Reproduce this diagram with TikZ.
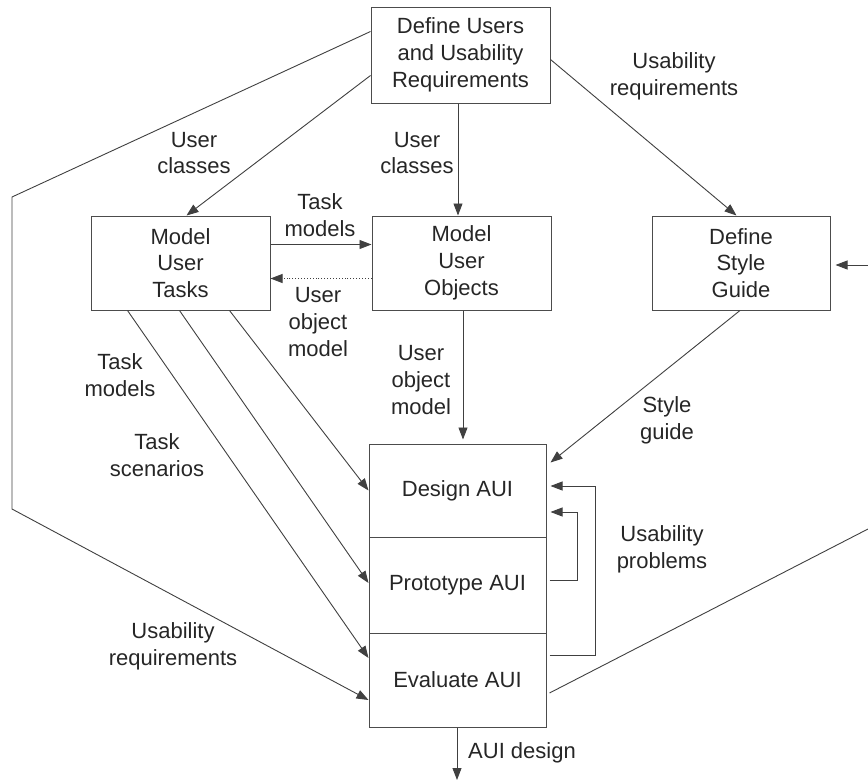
\documentclass[tikz,border=0pt]{standalone}
\usepackage{fontspec}
\setmainfont{Liberation Sans}
\usetikzlibrary{arrows.meta}
\begin{document}
\begin{tikzpicture}[x=1pt,y=-1pt,
  txt/.style={font=\fontsize{22}{26.7}\selectfont, text=black!85, align=center, inner sep=0pt},
  box/.style={txt, draw=black!70, line width=1pt, minimum width=#1, rectangle},
  ln/.style={draw=black!75, line width=0.9pt},
  arr/.style={ln, -{Triangle[length=12pt,width=9pt]}},
  dot/.style={ln, dotted, -{Triangle[length=12pt,width=9pt]}}]
\useasboundingbox (0,0) rectangle (868,782);
% boxes
\node[box=179pt, minimum height=96pt] (top) at (460.5,55) {Define Users\\and Usability\\Requirements};
\node[box=179pt, minimum height=94pt] (mut) at (180.5,263) {Model\\User\\Tasks};
\node[box=179pt, minimum height=94pt] (muo) at (461.5,263) {Model\\User\\Objects};
\node[box=178pt, minimum height=94pt] (dsg) at (741,263) {Define\\Style\\Guide};
\node[box=177pt, minimum height=93pt] (design) at (457.5,490.5) {Design AUI};
\node[box=177pt, minimum height=96pt] (proto) at (457.5,585) {Prototype AUI};
\node[box=177pt, minimum height=94pt] (eval) at (457.5,680) {Evaluate AUI};
% helper coordinates
\coordinate (lc1) at (12,197);
\coordinate (lc2) at (12,509);
\coordinate (fbotop) at (595,486);
\coordinate (fbitop) at (577,512);
\coordinate (edgeR1) at (868,265);
\coordinate (edgeR2) at (868,529);
\coordinate (out) at (457,780);
% connectors
\draw[arr] ([yshift=-25pt]top.north west) -- (lc1) -- (lc2) -- ([yshift=-20pt]eval.west);
\draw[arr] ([yshift=-69pt]top.north west) -- ([xshift=96pt]mut.north west);
\draw[arr] ([xshift=-2.5pt]top.south) -- ([xshift=-3.5pt]muo.north);
\draw[arr] ([yshift=-53pt]top.north east) -- ([xshift=85pt]dsg.north west);
\draw[arr] ([yshift=-29pt]mut.north east) -- ([yshift=-29pt]muo.north west);
\draw[dot] ([yshift=-63pt]muo.north west) -- ([yshift=-63pt]mut.north east);
\draw[arr] ([xshift=1.5pt]muo.south) -- ([xshift=5.5pt,yshift=4pt]design.north);
\draw[arr] ([xshift=-1pt]dsg.south) -- ([xshift=4pt,yshift=-19pt]design.north east);
\draw[arr] ([xshift=139pt]mut.south west) -- (design.west);
\draw[arr] ([xshift=89pt]mut.south west) -- ([yshift=2pt]proto.west);
\draw[arr] ([xshift=37pt]mut.south west) -- ([yshift=22pt]eval.west);
\draw[arr] ([xshift=3pt,yshift=-23pt]eval.north east) -| (fbotop) -- ([xshift=4pt]design.east |- fbotop);
\draw[arr] ([xshift=3pt,yshift=5pt]proto.east) -| (fbitop) -- ([xshift=4pt]design.east |- fbitop);
\draw[ln] ([xshift=3pt,yshift=-13pt]eval.east) -- (edgeR2);
\draw[arr] (edgeR1) -- ([xshift=5pt,yshift=-2pt]dsg.east);
\draw[arr] ([xshift=-0.5pt]eval.south) -- (out);
% labels
\node[txt] (l1) at (194,153) {User\\classes};
\node[txt] (l2) at (417,153) {User\\classes};
\node[txt] (l3) at (674,76) {Usability\\requirements};
\node[txt] (l4) at (320,215) {Task\\models};
\node[txt] (l5) at (318,322) {User\\object\\model};
\node[txt] (l6) at (421,380) {User\\object\\model};
\node[txt] (l7) at (667,420) {Style\\guide};
\node[txt] (l8) at (120,375) {Task\\models};
\node[txt] (l9) at (157,455) {Task\\scenarios};
\node[txt] (l10) at (173,646) {Usability\\requirements};
\node[txt] (l11) at (662,549) {Usability\\problems};
\node[txt, anchor=west] (l12) at (468,753) {AUI design};
\end{tikzpicture}
\end{document}
